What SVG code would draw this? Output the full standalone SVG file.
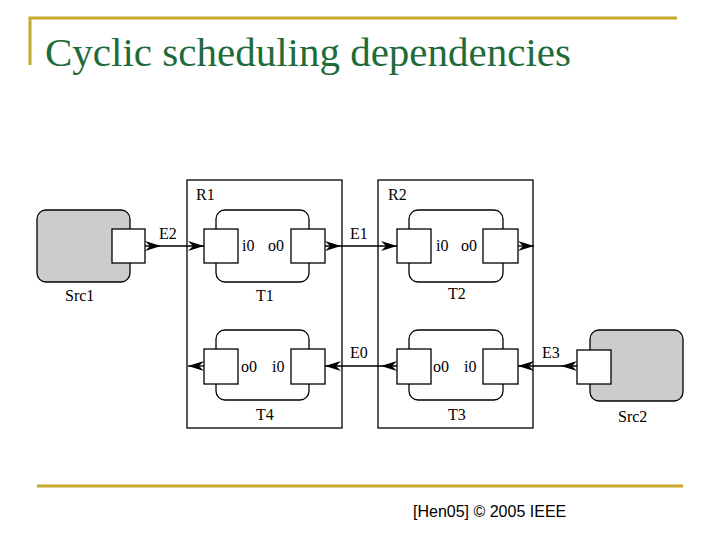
<svg xmlns="http://www.w3.org/2000/svg" width="720" height="540" viewBox="0 0 720 540">
<style>
.s{fill:#fff;stroke:#000;stroke-width:1.3}
.t{fill:none;stroke:#000;stroke-width:1.3}
.src{fill:#cccccc;stroke:#000;stroke-width:1.3}
.l{font-family:"Liberation Serif",serif;font-size:16px;fill:#000}
.c{stroke:#000;stroke-width:1.3;fill:none}
</style>
<defs>
<marker id="a" markerWidth="16" markerHeight="10" refX="16" refY="5" orient="auto" markerUnits="userSpaceOnUse"><path d="M0,0 L16,5 L0,10 L5,5 Z" fill="#000"/></marker>
<marker id="b" markerWidth="16" markerHeight="10" refX="0" refY="5" orient="auto" markerUnits="userSpaceOnUse"><path d="M0,0 L16,5 L0,10 L5,5 Z" fill="#000"/></marker>
</defs>
<rect width="720" height="540" fill="#fff"/>
<path d="M30,65 V18 H677" stroke="#c8a82a" stroke-width="3" fill="none"/>
<path d="M37,486 H683" stroke="#c8a82a" stroke-width="3" fill="none"/>
<text x="45" y="66" font-family="Liberation Serif,serif" font-size="41" fill="#1e6b3c">Cyclic scheduling dependencies</text>
<text x="413" y="517" font-family="Liberation Sans,sans-serif" font-size="16" fill="#000">[Hen05] © 2005 IEEE</text>
<g id="R1"><rect class="s" x="187" y="180" width="155" height="248"/><text class="l" x="196" y="200">R1</text></g>
<g id="R2"><rect class="s" x="378" y="180" width="155" height="248"/><text class="l" x="388" y="200">R2</text></g>
<g id="Src1"><rect class="src" x="37" y="210" width="93" height="72" rx="9"/><rect class="s" x="112" y="229" width="33" height="34"/><text class="l" x="65" y="301">Src1</text></g>
<g id="Src2"><rect class="src" x="590" y="330" width="93" height="71" rx="9"/><rect class="s" x="577" y="350" width="34" height="34"/><text class="l" x="618" y="422">Src2</text></g>
<g id="T1"><rect class="t" x="216" y="210" width="93" height="72" rx="9"/><rect class="s" x="204" y="229" width="34" height="34"/><rect class="s" x="291" y="229" width="34" height="34"/><text class="l" x="242" y="251">i0</text><text class="l" x="268" y="251">o0</text><text class="l" x="256" y="301">T1</text></g>
<g id="T2"><rect class="t" x="409" y="210" width="94" height="72" rx="9"/><rect class="s" x="397" y="229" width="34" height="34"/><rect class="s" x="483" y="229" width="35" height="34"/><text class="l" x="436" y="251">i0</text><text class="l" x="461" y="251">o0</text><text class="l" x="448" y="299">T2</text></g>
<g id="T4"><rect class="t" x="216" y="330" width="93" height="70" rx="9"/><rect class="s" x="204" y="349" width="34" height="35"/><rect class="s" x="291" y="349" width="34" height="35"/><text class="l" x="241" y="372">o0</text><text class="l" x="272" y="372">i0</text><text class="l" x="256" y="420">T4</text></g>
<g id="T3"><rect class="t" x="409" y="330" width="94" height="70" rx="9"/><rect class="s" x="397" y="349" width="34" height="35"/><rect class="s" x="483" y="349" width="35" height="35"/><text class="l" x="433" y="372">o0</text><text class="l" x="464" y="372">i0</text><text class="l" x="448" y="420">T3</text></g>
<g id="connectors">
<line class="c" x1="145" y1="246" x2="204" y2="246" marker-start="url(#b)" marker-end="url(#a)"/>
<line class="c" x1="325" y1="246" x2="397" y2="246" marker-start="url(#b)" marker-end="url(#a)"/>
<line class="c" x1="518" y1="246" x2="534" y2="246" marker-start="url(#b)"/>
<line class="c" x1="577" y1="366" x2="518" y2="366" marker-start="url(#b)" marker-end="url(#a)"/>
<line class="c" x1="397" y1="366" x2="325" y2="366" marker-start="url(#b)" marker-end="url(#a)"/>
<line class="c" x1="204" y1="366" x2="188" y2="366" marker-start="url(#b)"/>
<text class="l" x="159" y="239">E2</text>
<text class="l" x="350" y="239">E1</text>
<text class="l" x="350" y="358">E0</text>
<text class="l" x="542" y="358">E3</text>
</g>
</svg>
